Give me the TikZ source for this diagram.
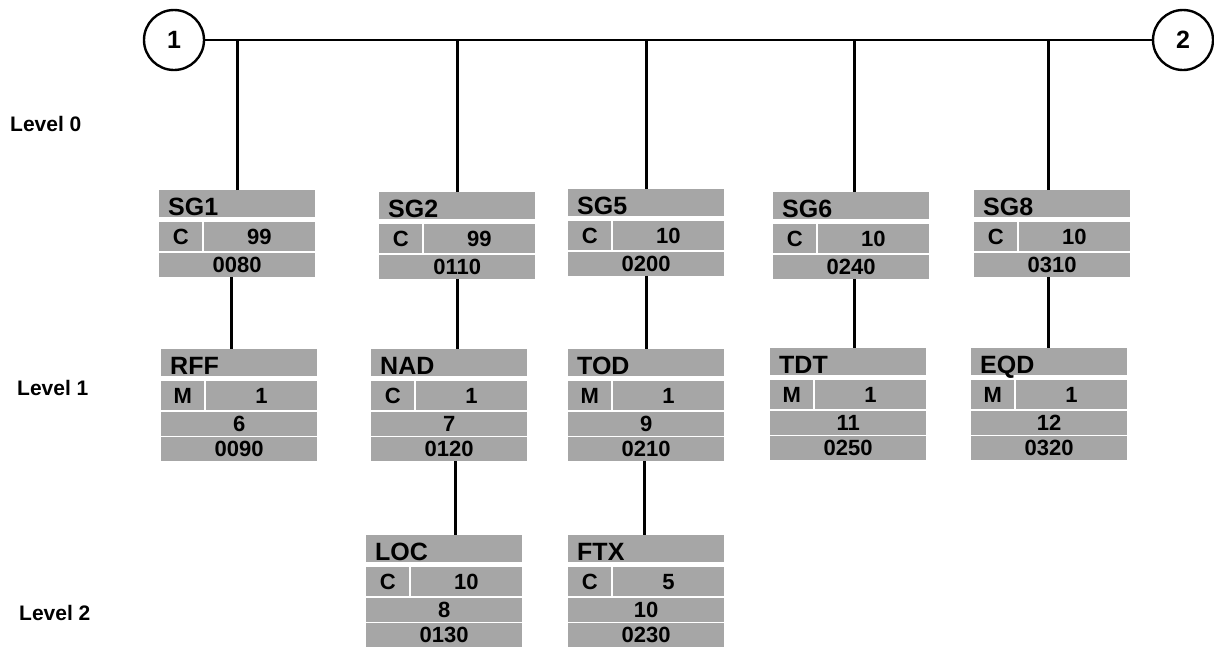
\documentclass[tikz,border=0pt]{standalone}
\usepackage{fontspec}
\setmainfont{Liberation Sans}
\definecolor{boxgray}{RGB}{166,166,166}
\tikzset{
  hdr/.style={fill=boxgray,anchor=north west,inner xsep=9pt,inner ysep=0pt,text width=138pt,align=left,minimum height=27pt,text height=24pt,text depth=0pt,font=\bfseries\fontsize{25}{25}\selectfont},
  fld/.style={fill=boxgray,anchor=north west,inner sep=0pt,minimum height=24pt,font=\bfseries\fontsize{22}{22}\selectfont},
  stat/.style={fld,minimum width=43pt,minimum height=29pt},
  rep/.style={fld,minimum width=111.5pt,minimum height=29pt},
  row/.style={fld,minimum width=156pt},
  num/.style={circle,draw,line width=2.4pt,minimum size=60pt,inner sep=0pt,font=\bfseries\fontsize{25}{25}\selectfont},
  lvl/.style={inner sep=0pt,anchor=base west,font=\bfseries\fontsize{21}{21}\selectfont},
  wire/.style={line width=2.6pt}
}
\begin{document}
\begin{tikzpicture}[x=1pt,y=-1pt]
\path[use as bounding box] (0,0) rectangle (1214,646);
\node[num] (c1) at (174,40) {1};
\node[num] (c2) at (1183,40) {2};
\node[lvl] (lvl0) at (10,131) {Level 0};
\node[lvl] (lvl1) at (17,395) {Level 1};
\node[lvl] (lvl2) at (19,620) {Level 2};
% level 0 groups
\node[hdr] (sg1) at (159,190) {SG1};
\node[stat] (sg1s) at (159,222) {C};
\node[rep] (sg1r) at (203.5,222) {99};
\node[row] (sg1c) at (159,252.5) {0080};
\node[hdr] (sg2) at (379,192) {SG2};
\node[stat] (sg2s) at (379,224) {C};
\node[rep] (sg2r) at (423.5,224) {99};
\node[row] (sg2c) at (379,254.5) {0110};
\node[hdr] (sg5) at (568,189) {SG5};
\node[stat] (sg5s) at (568,221) {C};
\node[rep] (sg5r) at (612.5,221) {10};
\node[row] (sg5c) at (568,251.5) {0200};
\node[hdr] (sg6) at (773,192) {SG6};
\node[stat] (sg6s) at (773,224) {C};
\node[rep] (sg6r) at (817.5,224) {10};
\node[row] (sg6c) at (773,254.5) {0240};
\node[hdr] (sg8) at (974,190) {SG8};
\node[stat] (sg8s) at (974,222) {C};
\node[rep] (sg8r) at (1018.5,222) {10};
\node[row] (sg8c) at (974,252.5) {0310};
% level 1 segments
\node[hdr] (rff) at (161,349) {RFF};
\node[stat] (rffs) at (161,381) {M};
\node[rep] (rffr) at (205.5,381) {1};
\node[row] (rffp) at (161,411.5) {6};
\node[row] (rffc) at (161,437) {0090};
\node[hdr] (nad) at (371,349) {NAD};
\node[stat] (nads) at (371,381) {C};
\node[rep] (nadr) at (415.5,381) {1};
\node[row] (nadp) at (371,411.5) {7};
\node[row] (nadc) at (371,437) {0120};
\node[hdr] (tod) at (568,349) {TOD};
\node[stat] (tods) at (568,381) {M};
\node[rep] (todr) at (612.5,381) {1};
\node[row] (todp) at (568,411.5) {9};
\node[row] (todc) at (568,437) {0210};
\node[hdr] (tdt) at (770,348) {TDT};
\node[stat] (tdts) at (770,380) {M};
\node[rep] (tdtr) at (814.5,380) {1};
\node[row] (tdtp) at (770,410.5) {11};
\node[row] (tdtc) at (770,436) {0250};
\node[hdr] (eqd) at (971,348) {EQD};
\node[stat] (eqds) at (971,380) {M};
\node[rep] (eqdr) at (1015.5,380) {1};
\node[row] (eqdp) at (971,410.5) {12};
\node[row] (eqdc) at (971,436) {0320};
% level 2 segments
\node[hdr] (loc) at (366,535) {LOC};
\node[stat] (locs) at (366,567) {C};
\node[rep] (locr) at (410.5,567) {10};
\node[row] (locp) at (366,597.5) {8};
\node[row] (locc) at (366,623) {0130};
\node[hdr] (ftx) at (568,535) {FTX};
\node[stat] (ftxs) at (568,567) {C};
\node[rep] (ftxr) at (612.5,567) {5};
\node[row] (ftxp) at (568,597.5) {10};
\node[row] (ftxc) at (568,623) {0230};
% connectors
\draw[wire] (c1) -- (c2);
\draw[wire] (sg1.north) -- (sg1.north |- c1.east);
\draw[wire] (sg2.north) -- (sg2.north |- c1.east);
\draw[wire] (sg5.north) -- (sg5.north |- c1.east);
\draw[wire] ([xshift=3pt]sg6.north) -- ([xshift=3pt]sg6.north |- c1.east);
\draw[wire] ([xshift=-4pt]sg8.north) -- ([xshift=-4pt]sg8.north |- c1.east);
\draw[wire] ([xshift=-6pt]sg1c.south) -- ([xshift=-6pt]sg1c.south |- rff.north);
\draw[wire] (sg2c.south) -- (sg2c.south |- nad.north);
\draw[wire] (sg5c.south) -- (sg5c.south |- tod.north);
\draw[wire] ([xshift=3pt]sg6c.south) -- ([xshift=3pt]sg6c.south |- tdt.north);
\draw[wire] ([xshift=-4pt]sg8c.south) -- ([xshift=-4pt]sg8c.south |- eqd.north);
\draw[wire] ([xshift=6pt]nadc.south) -- ([xshift=6pt]nadc.south |- loc.north);
\draw[wire] ([xshift=-2pt]todc.south) -- ([xshift=-2pt]todc.south |- ftx.north);
\end{tikzpicture}
\end{document}
